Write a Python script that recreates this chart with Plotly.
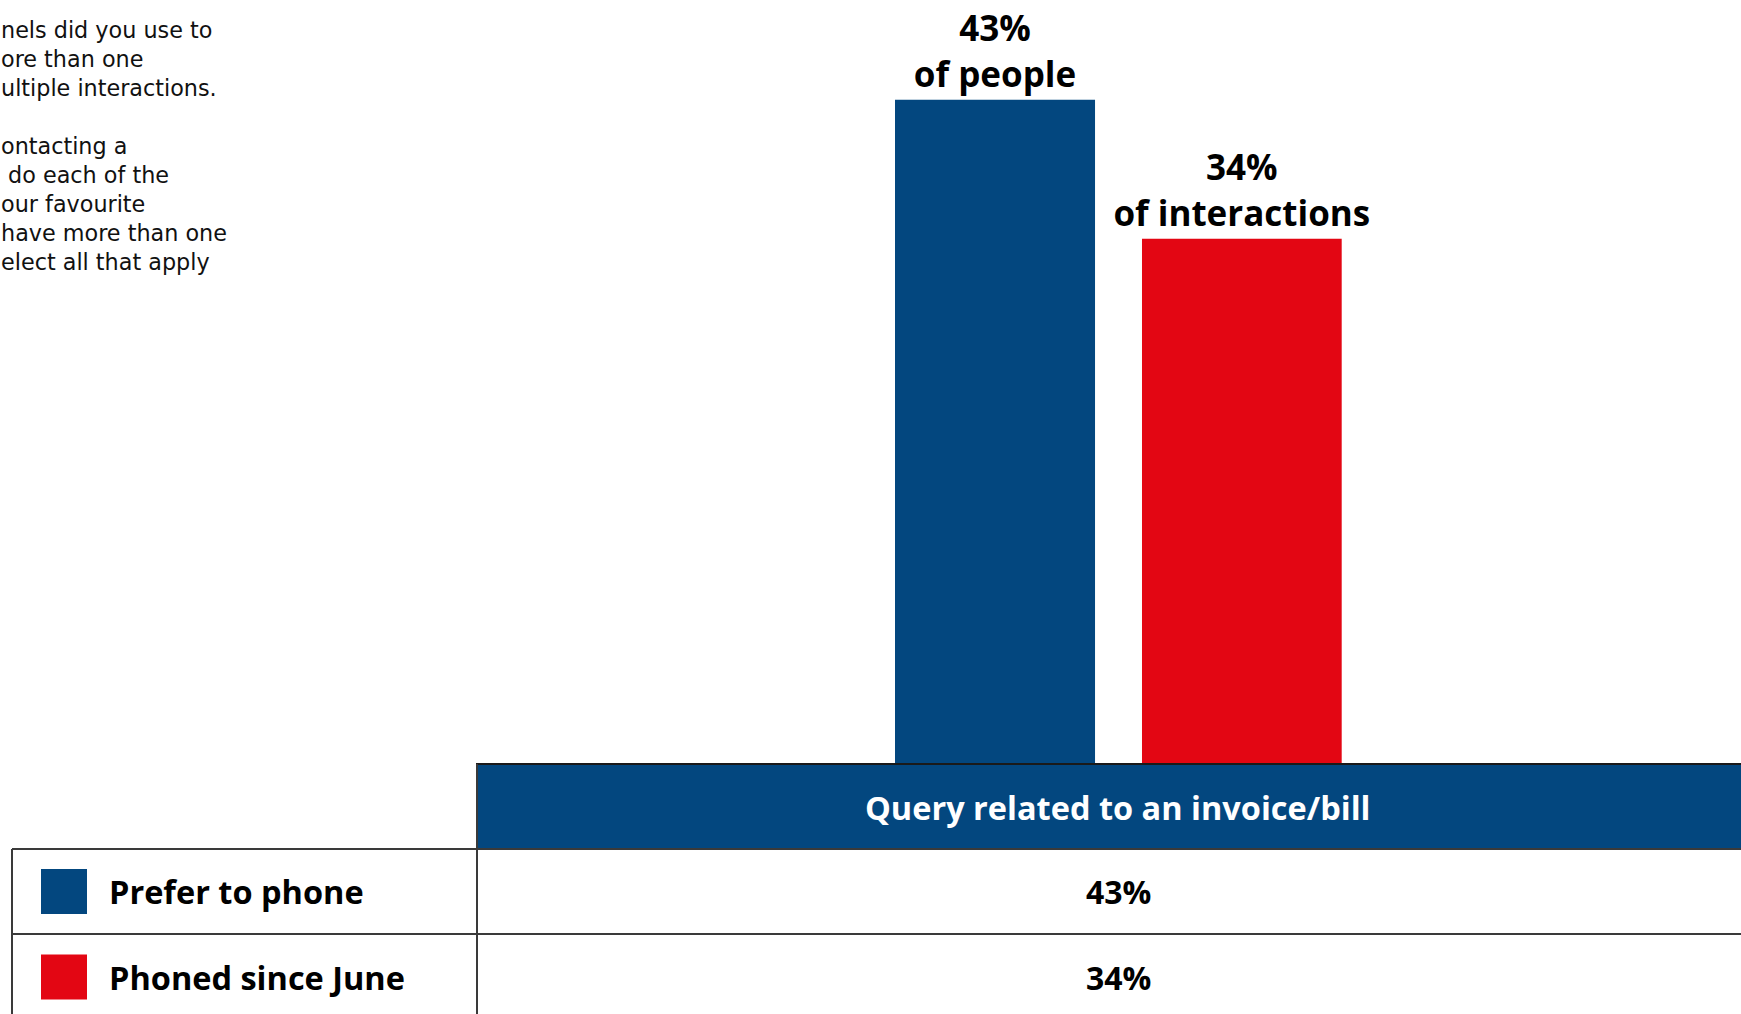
import plotly.graph_objects as go

# ---------------- data ----------------
category = ["Query related to an invoice/bill"]
series_names = ["Prefer to phone", "Phoned since June"]
series_values = [43, 34]
bar_captions = ["of people", "of interactions"]
series_colors = ["#03477F", "#E30613"]
question_lines = [
    "nels did you use to",
    "ore than one",
    "ultiple interactions.",
    "",
    "ontacting a",
    "&nbsp;do each of the",
    "our favourite",
    "have more than one",
    "elect all that apply",
]

W, H = 1741, 1014
BOLD = "Open Sans"
REG = "DejaVu Sans"


def px(x):
    return x / W


def py(y):
    return 1 - y / H


fig = go.Figure()

offsets = [-0.3528, 0.038]
widths = [0.3165, 0.316]
for name, val, cap, col, off, wd in zip(series_names, series_values, bar_captions,
                                        series_colors, offsets, widths):
    fig.add_trace(go.Bar(
        x=category, y=[val], name=name,
        marker=dict(color=col, line=dict(width=0)),
        offset=off, width=wd,
        text=[f"{val}%<br>{cap}"], textposition="outside",
        textfont=dict(family=BOLD, size=35, color="#000000", weight="bold"),
        constraintext="none", cliponaxis=False,
        showlegend=False, hoverinfo="skip",
    ))

fig.update_layout(
    width=W, height=H,
    margin=dict(l=0, r=0, t=0, b=0),
    paper_bgcolor="white", plot_bgcolor="white",
    barmode="overlay",
    xaxis=dict(domain=[px(477), 1], range=[-1.0142, 0.9858], visible=False,
               fixedrange=True),
    yaxis=dict(domain=[py(764), py(68.75)], range=[0, 45], visible=False,
               fixedrange=True),
    font=dict(family=REG),
)

shapes = []
annotations = []
LINE = "#3a3a3a"

# header band
shapes.append(dict(type="rect", xref="paper", yref="paper",
                   x0=px(477), x1=px(1760), y0=py(849), y1=py(764),
                   fillcolor=series_colors[0], line=dict(color="#1a1a1a", width=2),
                   layer="above"))
annotations.append(dict(xref="paper", yref="paper", x=px(1118), y=py(807),
                        text=category[0], showarrow=False,
                        font=dict(family=BOLD, size=32.5, color="white", weight="bold"),
                        xanchor="center", yanchor="middle"))

# table lines
for yl in (849, 934):
    shapes.append(dict(type="line", xref="paper", yref="paper",
                       x0=px(12), x1=1, y0=py(yl), y1=py(yl),
                       line=dict(color=LINE, width=2)))
shapes.append(dict(type="line", xref="paper", yref="paper",
                   x0=px(12), x1=px(12), y0=py(849), y1=0,
                   line=dict(color=LINE, width=2)))
shapes.append(dict(type="line", xref="paper", yref="paper",
                   x0=px(477), x1=px(477), y0=py(764), y1=0,
                   line=dict(color=LINE, width=2)))

row_centers = [891.5, 977]
for name, val, col, yc in zip(series_names, series_values, series_colors, row_centers):
    shapes.append(dict(type="rect", xref="paper", yref="paper",
                       x0=px(41), x1=px(87), y0=py(yc + 22.5), y1=py(yc - 22.5),
                       fillcolor=col, line=dict(width=0)))
    annotations.append(dict(xref="paper", yref="paper", x=px(107), y=py(yc),
                            text=name, showarrow=False,
                            font=dict(family=BOLD, size=32.5, color="#000000", weight="bold"),
                            xanchor="left", yanchor="middle"))
    annotations.append(dict(xref="paper", yref="paper", x=px(1118), y=py(yc),
                            text=f"{val}%", showarrow=False,
                            font=dict(family=BOLD, size=32, color="#000000", weight="bold"),
                            xanchor="center", yanchor="middle"))

# question text (cut at left edge in the original)
annotations.append(dict(xref="paper", yref="paper", x=0, y=py(15.5),
                        text="<br>".join(question_lines), showarrow=False,
                        align="left", borderpad=0,
                        font=dict(family=REG, size=22.3, color="#111111"),
                        xanchor="left", yanchor="top"))

fig.update_layout(shapes=shapes, annotations=annotations)
fig.write_html("out.html")
